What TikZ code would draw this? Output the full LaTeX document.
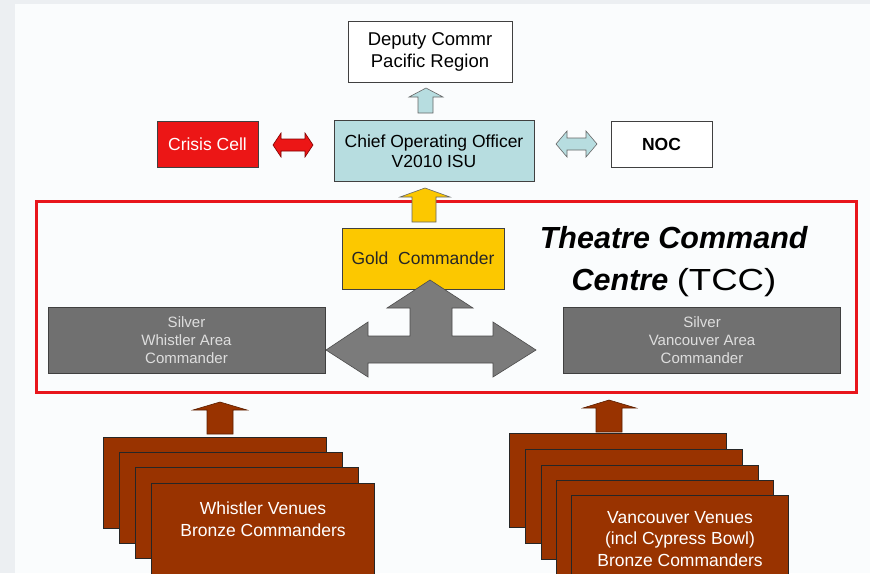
\documentclass[tikz,border=0pt]{standalone}
\usepackage{fontspec}
\usepackage{graphicx}
\setmainfont{Liberation Sans}
\usetikzlibrary{positioning,calc}

\definecolor{bronze}{RGB}{153,51,0}
\definecolor{cooblue}{RGB}{183,221,224}
\definecolor{gold}{RGB}{252,200,0}
\definecolor{silver}{RGB}{112,112,112}
\definecolor{silvertext}{RGB}{222,222,222}
\definecolor{arrowgray}{RGB}{123,123,123}
\definecolor{crisis}{RGB}{236,22,22}
\definecolor{tccframe}{RGB}{232,22,28}
\definecolor{panel}{RGB}{250,252,253}
\definecolor{edge}{RGB}{236,239,242}

\begin{document}
\begin{tikzpicture}[x=1pt,y=-1pt,
  box/.style={draw=black!75,line width=.8pt,inner sep=0pt,align=center,
    font=\fontsize{17.5}{20}\selectfont},
  silverbox/.style={box,fill=silver,text=silvertext,font=\fontsize{15}{18}\selectfont},
  card/.style={draw=black!85,line width=1pt,fill=bronze,anchor=north west,inner sep=0pt},
  blockarrow/.style={draw=black!60,line width=.6pt,line join=miter}]
			\fill[edge] (0,0) rectangle (870,573);
			\fill[panel] (15,4) rectangle (870,573);
			\useasboundingbox (0,0) rectangle (870,573);
			
			% top row
			\node[box,fill=white,minimum width=164pt,minimum height=61pt,font=\fontsize{18.5}{22}\selectfont] (dep) at (430,51.5) {Deputy Commr\\Pacific Region};
			\node[box,fill=cooblue,minimum width=200pt,minimum height=61pt] (coo) at (434,151) {Chief Operating Officer\\V2010 ISU};
			\node[box,fill=crisis,text=white,minimum width=101pt,minimum height=46pt] (crisis) at (207.5,144) {Crisis Cell};
			\node[box,fill=white,minimum width=101pt,minimum height=46pt,font=\bfseries\fontsize{17.5}{20}\selectfont] (noc) at (661.5,144) {NOC};
			
			\draw[blockarrow,fill=cooblue] (418,113) -- (418,97) -- (409,97) -- (426,88) -- (443,97) -- (433,97) -- (433,113) -- cycle;
			\draw[blockarrow,fill=crisis,draw=red!50!black] (273,145) -- (281,133) -- (281,139) -- (305,139) -- (305,133) -- (313,145) -- (305,157) -- (305,151) -- (281,151) -- (281,157) -- cycle;
			\draw[blockarrow,fill=cooblue] (556,144) -- (567,131) -- (567,138) -- (586,138) -- (586,131) -- (597,144) -- (586,157) -- (586,150) -- (567,150) -- (567,157) -- cycle;
			
			% theatre command centre
			\node[draw=tccframe,line width=3pt,minimum width=820pt,minimum height=191pt] (tcc) at (446,296.5) {};
			\draw[blockarrow,fill=gold] (412,222) -- (412,197) -- (400,197) -- (425,188) -- (450,197) -- (436,197) -- (436,222) -- cycle;
			\node[box,fill=gold,text=black!85,minimum width=162pt,minimum height=61pt] (gold) at (423,258.5) {Gold\ \ Commander};
			\node[align=center,font=\fontsize{30.5}{42}\selectfont] (title) at (674,262) {\textbf{\textit{Theatre Command}}\\\textbf{\textit{Centre}} \scalebox{1.2}[1]{(TCC)}};
			\node[silverbox,minimum width=277pt,minimum height=66pt] (silw) at (186.5,340) {Silver\\Whistler Area\\Commander};
			\node[silverbox,minimum width=277pt,minimum height=66pt] (silv) at (702,340) {Silver\\Vancouver Area\\Commander};
			\draw[blockarrow,fill=arrowgray,draw=black!70] (326,350) -- (368,322) -- (368,336) -- (410,336) -- (410,308) -- (387,308) -- (430,280) -- (473,308) -- (452,308) -- (452,336) -- (493,336) -- (493,322) -- (536,350) -- (493,377) -- (493,363) -- (368,363) -- (368,377) -- cycle;
			
			% bronze commanders
			\draw[blockarrow,fill=bronze,draw=bronze!60!black] (207,434) -- (207,410) -- (193,410) -- (220,402) -- (247,410) -- (233,410) -- (233,434) -- cycle;
			\draw[blockarrow,fill=bronze,draw=bronze!60!black] (596,432) -- (596,408) -- (583,408) -- (609,400) -- (636,408) -- (622,408) -- (622,432) -- cycle;
			
			\node[card,minimum width=223pt,minimum height=91pt] (w1) at (103,437) {};
			\node[card,minimum width=223pt,minimum height=91pt] (w2) at (119,452) {};
			\node[card,minimum width=223pt,minimum height=91pt] (w3) at (135,467) {};
			\node[card,minimum width=223pt,minimum height=91pt] (w4) at (151,483) {};
			\node[text=white,align=center,font=\fontsize{17.5}{22}\selectfont] (wtxt) at ([yshift=-36pt]w4.north) {Whistler Venues\\Bronze Commanders};
			
			\node[card,minimum width=217pt,minimum height=94pt] (v1) at (509,433) {};
			\node[card,minimum width=217pt,minimum height=94pt] (v2) at (525,449) {};
			\node[card,minimum width=217pt,minimum height=94pt] (v3) at (541,465) {};
			\node[card,minimum width=217pt,minimum height=94pt] (v4) at (556,480) {};
			\node[card,minimum width=217pt,minimum height=94pt] (v5) at (571,495) {};
			\node[text=white,align=center,font=\fontsize{17.5}{21.5}\selectfont] (vtxt) at ([yshift=-44pt]v5.north) {Vancouver Venues\\(incl Cypress Bowl)\\Bronze Commanders};
\end{tikzpicture}
\end{document}
